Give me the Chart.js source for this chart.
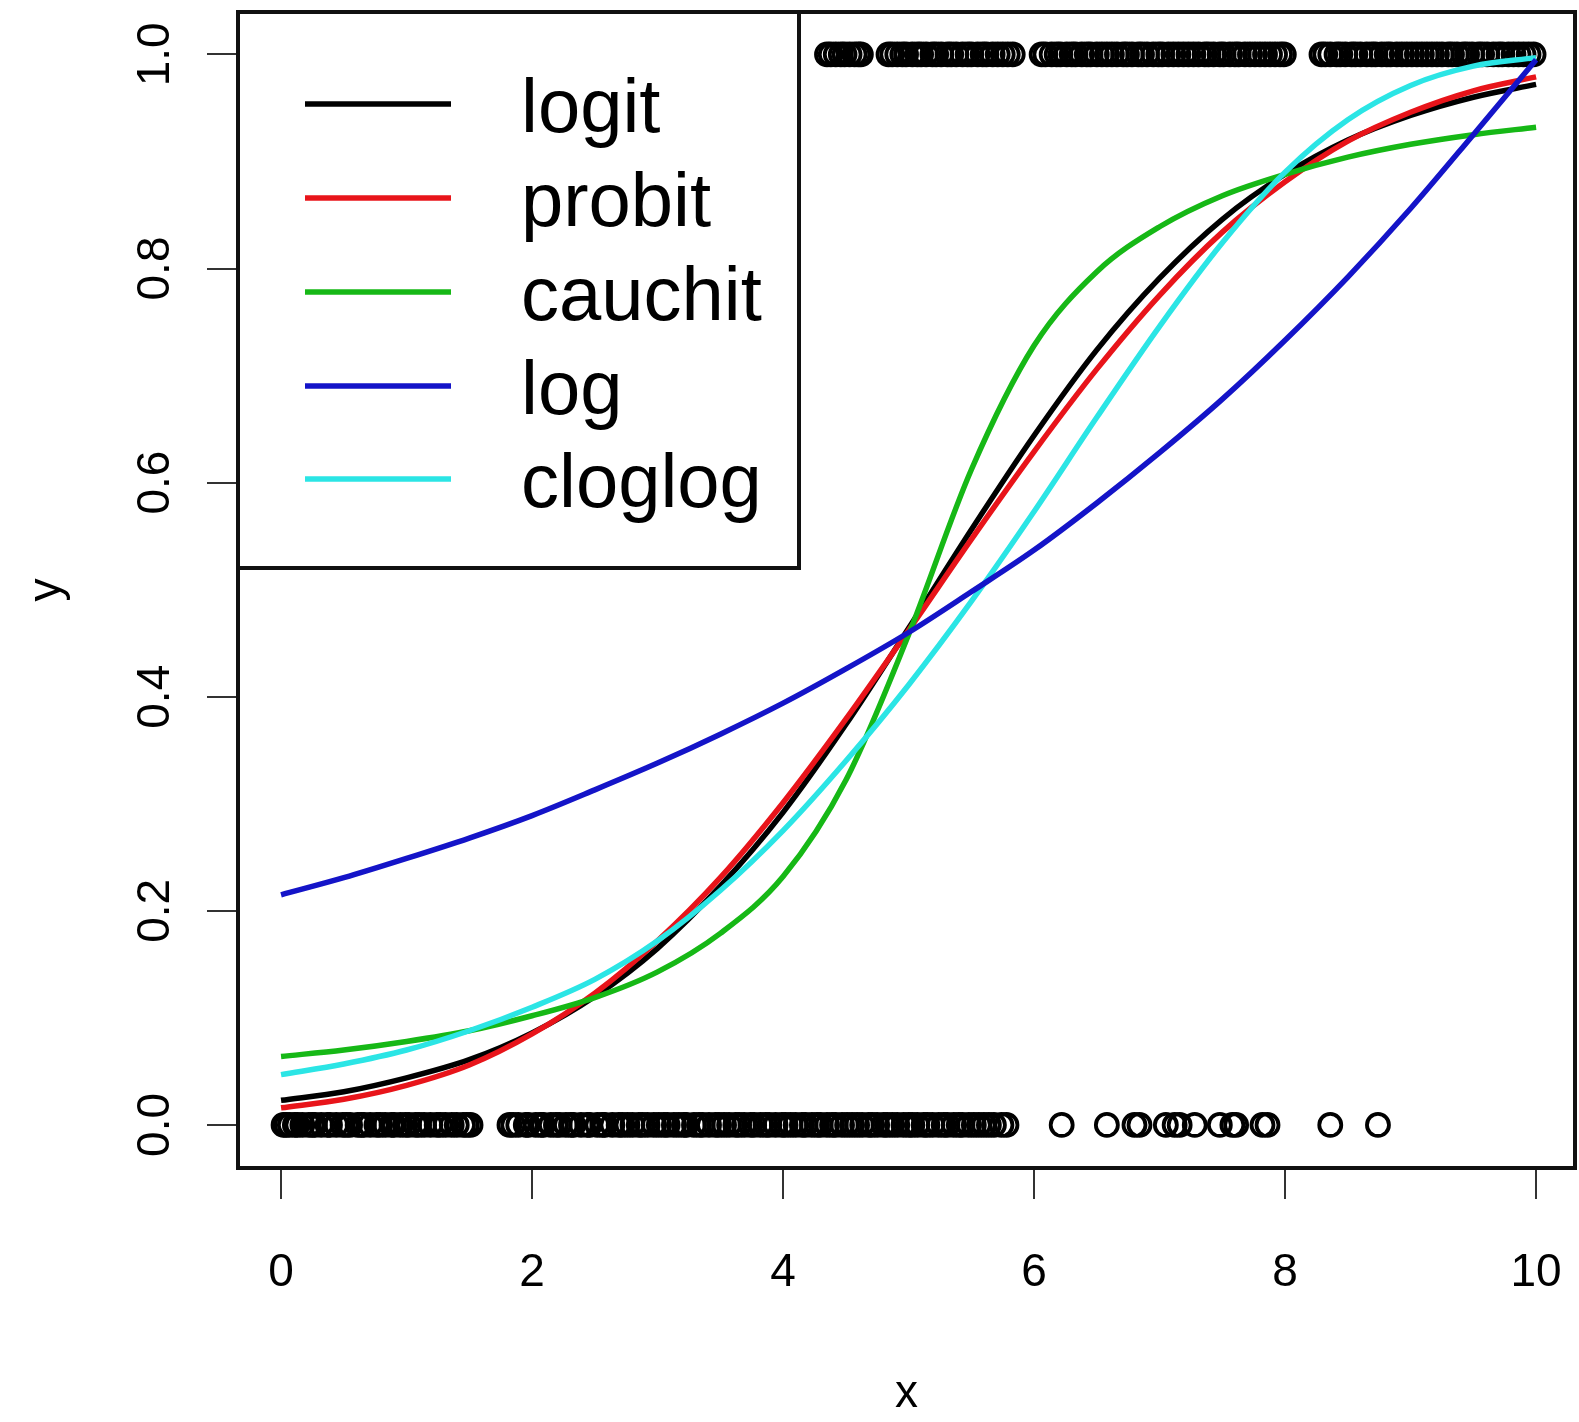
<!DOCTYPE html>
<html>
<head>
<meta charset="utf-8">
<script src="https://cdn.jsdelivr.net/npm/chart.js@4.4.1/dist/chart.umd.min.js"></script>
<style>
html,body{margin:0;padding:0;background:#ffffff;}
#wrap{width:1579px;height:1422px;position:relative;}
</style>
</head>
<body>
<div id="wrap"><canvas id="c" width="1579" height="1422"></canvas></div>
<script>
// ---- data ----
const curveX = [0,0.5,1,1.5,2,2.5,3,3.5,4,4.5,5,5.5,6,6.5,7,7.5,8,8.5,9,9.5,10];
const logitY   = [0.023,0.031,0.044,0.061,0.086,0.120,0.165,0.223,0.292,0.374,0.464,0.556,0.644,0.724,0.791,0.846,0.888,0.920,0.943,0.960,0.972];
const probitY  = [0.016,0.024,0.037,0.056,0.085,0.123,0.172,0.231,0.301,0.379,0.462,0.547,0.629,0.706,0.775,0.834,0.881,0.919,0.946,0.966,0.979];
const cauchitY = [0.064,0.070,0.078,0.088,0.102,0.119,0.143,0.179,0.232,0.322,0.458,0.612,0.728,0.797,0.839,0.868,0.888,0.904,0.916,0.925,0.932];
const logY     = [0.215,0.231,0.249,0.268,0.289,0.313,0.338,0.365,0.394,0.426,0.460,0.498,0.537,0.581,0.628,0.678,0.733,0.792,0.856,0.925,0.995];
const cloglogY = [0.047,0.057,0.070,0.088,0.110,0.136,0.172,0.219,0.275,0.340,0.411,0.489,0.573,0.661,0.746,0.824,0.890,0.939,0.971,0.989,0.997];

const curveNames  = ['logit','probit','cauchit','log','cloglog'];
const curveColors = ['#000000','#e8141a','#16b816','#1414c8','#2be5e5'];

// observations with y = 0
const zeroX = [0.02,0.04,0.07,0.11,0.13,0.17,0.22,0.25,0.27,0.32,0.37,0.39,0.44,0.49,0.52,0.55,0.61,0.64,0.66,0.71,
  0.76,0.79,0.83,0.88,0.90,0.95,0.99,1.02,1.07,1.10,1.14,1.19,1.24,1.27,1.31,1.36,1.40,1.45,1.48,1.51,
  1.82,1.85,1.89,1.95,1.97,2.03,2.07,2.09,2.15,2.19,2.22,2.27,2.31,2.33,2.39,2.44,2.46,2.52,2.56,2.58,
  2.64,2.69,2.72,2.76,2.80,2.85,2.88,2.92,2.97,3.01,3.05,3.08,3.13,3.17,3.21,3.23,3.29,3.33,3.36,3.41,
  3.46,3.49,3.53,3.57,3.62,3.65,3.69,3.74,3.77,3.82,3.86,3.89,3.94,3.99,4.02,4.06,4.10,4.15,4.18,4.23,
  4.27,4.30,4.35,4.39,4.42,4.47,4.51,4.55,4.59,4.63,4.68,4.71,4.75,4.80,4.83,4.87,4.91,4.96,5.00,5.03,
  5.07,5.12,5.15,5.19,5.24,5.28,5.31,5.36,5.40,5.43,5.48,5.52,5.56,5.60,5.64,5.68,5.74,5.78,
  6.22,6.58,6.80,6.84,7.05,7.12,7.16,7.28,7.48,7.58,7.61,7.82,7.86,8.36,8.74];
// observations with y = 1
const oneX = [4.35,4.38,4.42,4.46,4.49,4.53,4.57,4.60,4.62,
  4.84,4.87,4.91,4.95,4.98,5.03,5.07,5.10,5.14,5.19,5.22,5.26,5.31,5.34,5.38,5.43,5.47,5.50,5.55,5.59,5.62,5.67,5.71,5.75,5.79,5.83,
  6.06,6.09,6.14,6.18,6.21,6.26,6.30,6.33,6.38,6.42,6.45,6.50,6.54,6.58,6.62,6.66,6.71,6.74,6.78,6.83,6.86,6.90,6.95,6.99,
  7.02,7.07,7.11,7.15,7.19,7.23,7.27,7.31,7.36,7.39,7.43,7.48,7.51,7.56,7.60,7.63,7.68,7.72,7.76,7.80,7.84,7.88,7.92,7.96,7.99,
  8.29,8.32,8.36,8.41,8.44,8.48,8.53,8.56,8.60,8.65,8.69,8.72,8.77,8.81,8.84,8.89,8.93,8.97,9.01,9.05,9.09,9.13,9.17,9.21,
  9.25,9.30,9.33,9.37,9.42,9.45,9.49,9.54,9.57,9.61,9.66,9.70,9.73,9.78,9.82,9.86,9.90,9.94,9.98];

const xTicks = [0,2,4,6,8,10];
const xTickLabels = ['0','2','4','6','8','10'];
const yTicks = [0,0.2,0.4,0.6,0.8,1.0];
const yTickLabels = ['0.0','0.2','0.4','0.6','0.8','1.0'];
const xTitle = 'x';
const yTitle = 'y';

// ---- chart ----
const FONT = "'Liberation Sans', Arial, Helvetica, sans-serif";
const curveSeries = [logitY, probitY, cauchitY, logY, cloglogY];
const drawOrder = [4, 3, 2, 0, 1]; // lower = on top

const datasets = [];
curveSeries.forEach((ys, k) => {
  datasets.push({
    type: 'line',
    label: curveNames[k],
    isCurve: true,
    data: curveX.map((x, i) => ({x: x, y: ys[i]})),
    borderColor: curveColors[k],
    backgroundColor: curveColors[k],
    borderWidth: 5.5,
    pointRadius: 0,
    fill: false,
    cubicInterpolationMode: 'monotone',
    order: drawOrder[k]
  });
});
const pointStyleOpts = {pointStyle: 'circle', pointRadius: 11, borderWidth: 3.8,
  borderColor: '#000', backgroundColor: 'rgba(0,0,0,0)', order: 10};
datasets.push(Object.assign({type: 'scatter', label: 'y0', data: zeroX.map(x => ({x: x, y: 0}))}, pointStyleOpts));
datasets.push(Object.assign({type: 'scatter', label: 'y1', data: oneX.map(x => ({x: x, y: 1}))}, pointStyleOpts));

const framePlugin = {
  id: 'frame',
  afterDatasetsDraw(chart) {
    const ctx = chart.ctx, a = chart.chartArea;
    ctx.save();
    // legend box
    const lw = 561, lh = 556;
    ctx.fillStyle = '#fff';
    ctx.fillRect(a.left, a.top, lw, lh);
    ctx.lineWidth = 4;
    ctx.strokeStyle = '#111';
    ctx.strokeRect(a.left, a.top, lw, lh);
    const rows = [92, 186, 280, 374, 467];
    ctx.font = '76px ' + FONT;
    ctx.textAlign = 'left';
    ctx.textBaseline = 'alphabetic';
    let r = 0;
    chart.data.datasets.forEach(ds => {
      if (!ds.isCurve) return;
      const y = a.top + rows[r++];
      ctx.strokeStyle = ds.borderColor;
      ctx.lineWidth = 5.5;
      ctx.beginPath();
      ctx.moveTo(a.left + 67, y);
      ctx.lineTo(a.left + 213, y);
      ctx.stroke();
      ctx.fillStyle = '#000';
      ctx.fillText(ds.label, a.left + 283, y + 28);
    });
    // plot box
    ctx.lineWidth = 4;
    ctx.strokeStyle = '#111';
    ctx.strokeRect(a.left, a.top, a.right - a.left, a.bottom - a.top);
    ctx.restore();
  }
};

new Chart(document.getElementById('c'), {
  type: 'scatter',
  data: {datasets: datasets},
  options: {
    responsive: false,
    animation: false,
    devicePixelRatio: 1,
    layout: {autoPadding: false, padding: {left: 0, top: 12, right: 4, bottom: 0}},
    plugins: {legend: {display: false}, tooltip: {enabled: false}},
    scales: {
      x: {
        type: 'linear', min: -0.343, max: 10.31,
        afterBuildTicks: s => { s.ticks = xTicks.map(v => ({value: v})); },
        afterFit: s => { s.height = 254; s.paddingLeft = 0; s.paddingRight = 0; },
        grid: {display: true, drawOnChartArea: false, drawTicks: true, tickLength: 31, color: '#333', lineWidth: 2},
        border: {display: false},
        ticks: {
          color: '#000', font: {family: FONT, size: 46}, padding: 47,
          maxRotation: 0, minRotation: 0, autoSkip: false,
          callback: (v) => xTickLabels[xTicks.indexOf(v)]
        },
        title: {display: true, text: xTitle, color: '#000', font: {family: FONT, size: 46}, padding: {top: 0, bottom: 0}}
      },
      y: {
        type: 'linear', min: -0.0402, max: 1.0396,
        afterBuildTicks: s => { s.ticks = yTicks.map(v => ({value: v})); },
        afterFit: s => { s.width = 238; s.paddingTop = 0; s.paddingBottom = 0; },
        grid: {display: true, drawOnChartArea: false, drawTicks: true, tickLength: 31, color: '#333', lineWidth: 2},
        border: {display: false},
        ticks: {
          color: '#000', font: {family: FONT, size: 46}, padding: 19,
          minRotation: 90, maxRotation: 90, crossAlign: 'center', autoSkip: false,
          callback: (v) => yTickLabels[yTicks.indexOf(v)]
        },
        title: {display: true, text: yTitle, color: '#000', font: {family: FONT, size: 46}, padding: {top: 20, bottom: 0}}
      }
    }
  },
  plugins: [framePlugin]
});
</script>
</body>
</html>
